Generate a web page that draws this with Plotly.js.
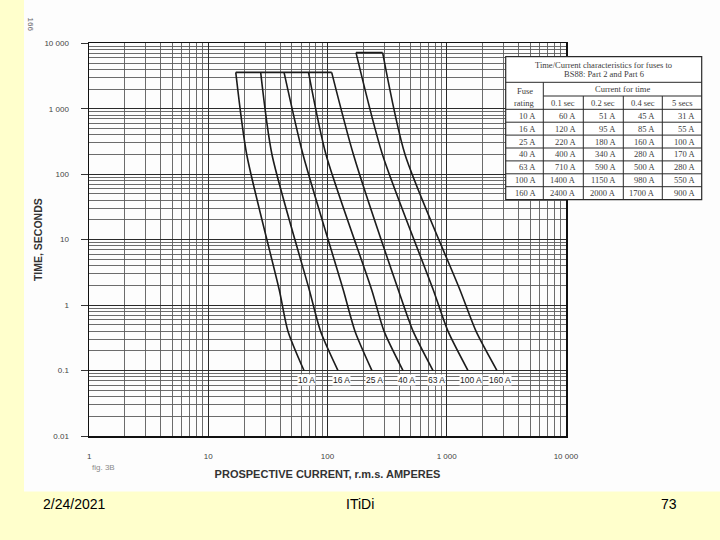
<!DOCTYPE html>
<html><head><meta charset="utf-8">
<script src="https://cdn.plot.ly/plotly-3.0.1.min.js"></script>
<style>html,body{margin:0;padding:0;background:#FFFFCC;}</style>
</head><body>
<div id="chart" style="width:720px;height:540px;"></div>
<script>
// ---- data ----
const fuseLabels = ['10 A','16 A','25 A','40 A','63 A','100 A','160 A'];
const timesLow  = [3600, 200, 1.7, 0.4, 0.1];   // s, curves 10-63 A
const timesHigh = [7200, 200, 1.7, 0.4, 0.1];   // s, curves 100-160 A
const cur10  = [17, 21, 39.4, 46.6, 63.5];
const cur16  = [27.5, 34.2, 70.4, 87.4, 122.5];
const cur25  = [43.2, 62.3, 135.7, 170, 236];
const cur40  = [69.3, 97.1, 235, 298, 430];
const cur63  = [108.4, 165, 393, 522, 768];
const cur100 = [173.4, 289, 772, 1025, 1509];
const cur160 = [290, 447, 1293, 1761, 2642];

const xTickVals = [1, 10, 100, 1000, 10000];
const xTickText = ['1', '10', '100', '1 000', '10 000'];
const yTickVals = [0.01, 0.1, 1, 10, 100, 1000, 10000];
const yTickText = ['0.01', '0.1', '1', '10', '100', '1 000', '10 000'];

// table
const tableTitle1 = 'Time/Current characteristics for fuses to';
const tableTitle2 = 'BS88: Part 2 and Part 6';
const tableSpan = 'Current for time';
const tableCorner = 'Fuse';
const tableHeader = ['rating', '0.1 sec', '0.2 sec', '0.4 sec', '5 secs'];
const tableFuse = ['10 A','16 A','25 A','40 A','63 A','100 A','160 A'];
const t01 = ['60 A','120 A','220 A','400 A','710 A','1400 A','2400 A'];
const t02 = ['51 A','95 A','180 A','340 A','590 A','1150 A','2000 A'];
const t04 = ['45 A','85 A','160 A','280 A','500 A','980 A','1700 A'];
const t5  = ['31 A','55 A','100 A','170 A','280 A','550 A','900 A'];

// ---- layout helpers (pixel -> paper) ----
const W = 720, H = 540;
const px = x => x / W;
const py = y => 1 - y / H;

const curves = [
  {c: cur10, t: timesLow}, {c: cur16, t: timesLow}, {c: cur25, t: timesLow},
  {c: cur40, t: timesLow}, {c: cur63, t: timesLow},
  {c: cur100, t: timesHigh}, {c: cur160, t: timesHigh}
];

const traces = curves.map((cv, i) => ({
  type: 'scatter', mode: 'lines', x: cv.c, y: cv.t, name: fuseLabels[i],
  line: {color: '#1c1c1c', width: 1.6, shape: 'spline', smoothing: 0.7},
  showlegend: false, hoverinfo: 'x+y+name'
}));
// top joining lines
traces.push({type: 'scatter', mode: 'lines', x: [cur10[0], cur63[0]], y: [timesLow[0], timesLow[0]],
  line: {color: '#1c1c1c', width: 1.6}, showlegend: false, hoverinfo: 'skip'});
traces.push({type: 'scatter', mode: 'lines', x: [cur100[0], cur160[0]], y: [timesHigh[0], timesHigh[0]],
  line: {color: '#1c1c1c', width: 1.6}, showlegend: false, hoverinfo: 'skip'});

const lab = {family: 'Liberation Sans, Arial, sans-serif'};
const tblFont = {family: 'Liberation Serif, serif', size: 8.5, color: '#3c3c3c'};
const annotations = [];
const shapes = [
  // scanned page area
  {type: 'rect', xref: 'paper', yref: 'paper', x0: px(24), x1: 1, y0: py(491.5), y1: 1,
    fillcolor: '#fdfdfd', line: {width: 0}, layer: 'below'}
];

// curve labels at the bottom of each curve
curves.forEach((cv, i) => {
  annotations.push({xref: 'x', yref: 'y', x: Math.log10(cv.c[cv.c.length - 1]), y: Math.log10(0.072),
    xanchor: 'center', yanchor: 'middle',
    text: fuseLabels[i], showarrow: false, xshift: 3, bgcolor: '#ffffff', borderpad: 0,
    font: {family: lab.family, size: 8.5, color: '#222'}});
});

// ---- table drawn with shapes + annotations from the arrays ----
const colEdges = [505.7, 543.3, 583.3, 623.3, 662.3, 701.7];
const tTop = 56.7, tTitleLine = 82.3, tSpanLine = 96, tHeadLine = 109.3, rowH = 12.9;
const tableCols = [tableFuse, t01, t02, t04, t5];
const nRows = tableFuse.length;
const tBottom = tHeadLine + nRows * rowH;
const tl = {color: '#2a2a2a', width: 1};
const L = (x0, y0, x1, y1) => ({type: 'line', xref: 'paper', yref: 'paper', x0: px(x0), x1: px(x1), y0: py(y0), y1: py(y1), line: tl, layer: 'above'});
shapes.push({type: 'rect', xref: 'paper', yref: 'paper', x0: px(colEdges[0]), x1: px(colEdges[5]), y0: py(tBottom), y1: py(tTop),
  fillcolor: '#ffffff', line: {color: '#2a2a2a', width: 1.2}, layer: 'above'});
shapes.push(L(colEdges[0], tTitleLine, colEdges[5], tTitleLine));
shapes.push(L(colEdges[1], tSpanLine, colEdges[5], tSpanLine));
for (let r = 0; r < nRows; r++) shapes.push(L(colEdges[0], tHeadLine + r * rowH, colEdges[5], tHeadLine + r * rowH));
shapes.push(L(colEdges[1], tTitleLine, colEdges[1], tBottom));
for (let c = 2; c < colEdges.length - 1; c++) shapes.push(L(colEdges[c], tSpanLine, colEdges[c], tBottom));

const A = (x, y, text, opts) => Object.assign({xref: 'paper', yref: 'paper', x: px(x), y: py(y), text: text,
  xanchor: 'center', yanchor: 'middle', showarrow: false, font: tblFont}, opts || {});
annotations.push(A((colEdges[0] + colEdges[5]) / 2, 65, tableTitle1));
annotations.push(A((colEdges[0] + colEdges[5]) / 2, 74.3, tableTitle2));
annotations.push(A((colEdges[1] + colEdges[5]) / 2, 89.3, tableSpan));
annotations.push(A((colEdges[0] + colEdges[1]) / 2, 91, tableCorner));
tableHeader.forEach((h, c) => annotations.push(A((colEdges[c] + colEdges[c + 1]) / 2, 102.8, h)));
tableCols.forEach((col, c) => col.forEach((v, r) =>
  annotations.push(A(colEdges[c + 1] - 5, tHeadLine + (r + 0.5) * rowH, v, {xanchor: 'right'}))));

// misc scan text
annotations.push(A(90, 467, 'fig. 3B', {xanchor: 'left', font: {family: lab.family, size: 8, color: '#8a8a8a'}}));
annotations.push(A(29.5, 24, '166', {textangle: 90, font: {family: lab.family, size: 8, color: '#666'}}));
// footer
const footFont = {family: lab.family, size: 14, color: '#000'};
annotations.push(A(74, 504, '2/24/2021', {font: footFont}));
annotations.push(A(360, 504, 'ITiDi', {font: footFont}));
annotations.push(A(669, 504, '73', {font: footFont}));

const axisCommon = {
  type: 'log', showline: true, linecolor: '#111', linewidth: 1.6, mirror: true,
  showgrid: true, gridcolor: '#2a2a2a', gridwidth: 1.2,
  minor: {dtick: 'D1', showgrid: true, gridcolor: '#5c5c5c', gridwidth: 0.9},
  zeroline: false, fixedrange: true,
  tickfont: {family: lab.family, size: 8, color: '#444'}
};

const layout = {
  width: W, height: H,
  margin: {l: 0, r: 0, t: 0, b: 0},
  paper_bgcolor: '#FFFFCC', plot_bgcolor: '#ffffff',
  showlegend: false,
  xaxis: Object.assign({}, axisCommon, {
    domain: [px(89.1), px(565.9)], range: [0, 4], anchor: 'y',
    tickmode: 'array', tickvals: xTickVals, ticktext: xTickText, ticks: '', ticklabelstandoff: 12,
    title: {text: 'PROSPECTIVE CURRENT, r.m.s. AMPERES', standoff: 10,
      font: {family: lab.family, size: 11, color: '#333', weight: 'bold'}}
  }),
  yaxis: Object.assign({}, axisCommon, {
    domain: [py(436), py(43.3)], range: [-2, 4], anchor: 'x',
    tickmode: 'array', tickvals: yTickVals, ticktext: yTickText, ticks: 'outside', ticklen: 7,
    tickcolor: '#333', ticklabelstandoff: 10,
    title: {text: 'TIME, SECONDS', standoff: 0,
      font: {family: lab.family, size: 10.5, color: '#333', weight: 'bold'}}
  }),
  shapes: shapes,
  annotations: annotations
};

Plotly.newPlot('chart', traces, layout, {displayModeBar: false, staticPlot: true});
</script>
</body></html>
